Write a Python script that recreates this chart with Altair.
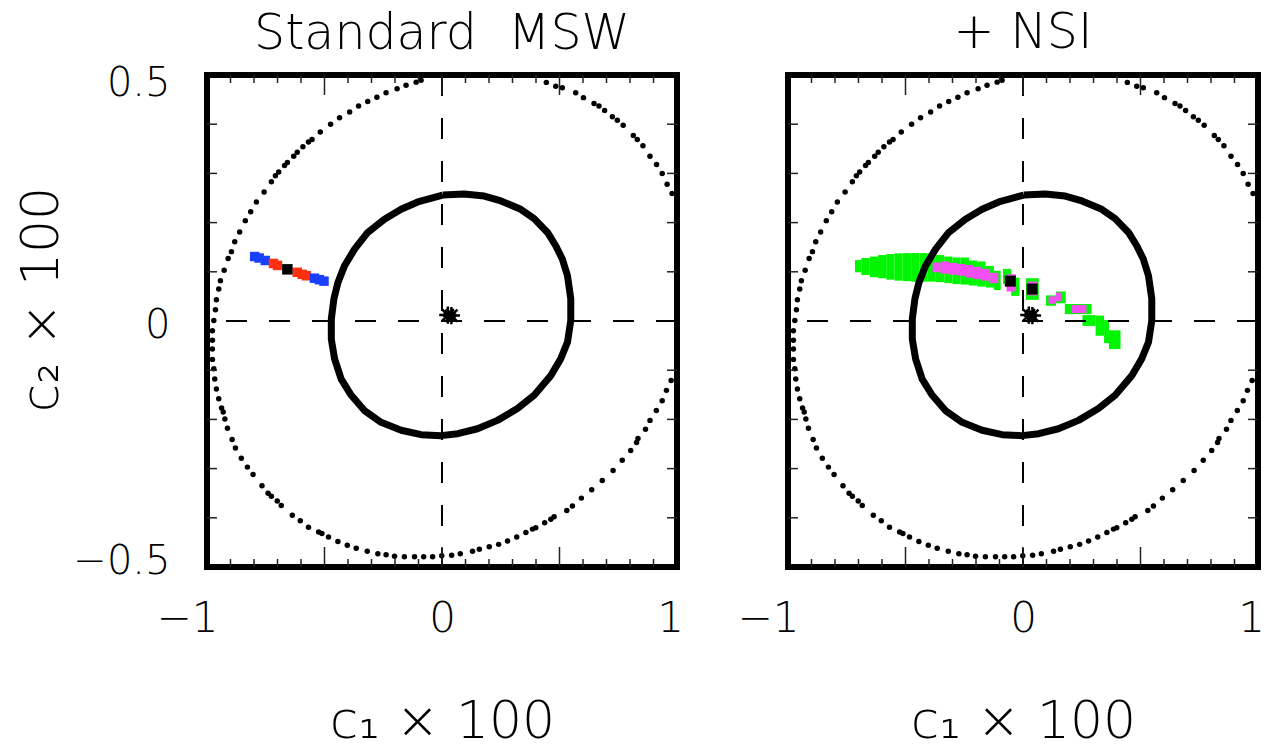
import altair as alt
import pandas as pd

# ---------------------------------------------------------------- data
# outer dotted contour (c1, c2)
outer_dots = [
    (-0.089, 0.4895), (-0.110, 0.4855), (-0.153, 0.479), (-0.191, 0.472), (-0.238, 0.464),
    (-0.277, 0.455), (-0.316, 0.446), (-0.355, 0.437), (-0.393, 0.425), (-0.436, 0.413),
    (-0.474, 0.400), (-0.518, 0.384), (-0.553, 0.369), (-0.568, 0.364), (-0.592, 0.354),
    (-0.616, 0.343), (-0.631, 0.335), (-0.658, 0.322), (-0.670, 0.316), (-0.695, 0.303),
    (-0.709, 0.295), (-0.726, 0.283), (-0.757, 0.262), (-0.790, 0.242), (-0.814, 0.222),
    (-0.837, 0.204), (-0.861, 0.181), (-0.882, 0.161), (-0.896, 0.141), (-0.910, 0.127),
    (-0.927, 0.103), (-0.943, 0.082), (-0.950, 0.065), (-0.960, 0.043), (-0.964, 0.023),
    (-0.971, 0.001), (-0.977, -0.020), (-0.977, -0.039), (-0.977, -0.057), (-0.977, -0.078),
    (-0.971, -0.097), (-0.967, -0.118), (-0.960, -0.138), (-0.950, -0.158), (-0.938, -0.177),
    (-0.931, -0.185), (-0.924, -0.199), (-0.913, -0.218), (-0.893, -0.241), (-0.879, -0.258),
    (-0.854, -0.279), (-0.828, -0.297), (-0.804, -0.312), (-0.766, -0.335), (-0.740, -0.350),
    (-0.726, -0.356), (-0.701, -0.366), (-0.684, -0.375), (-0.637, -0.395), (-0.603, -0.406),
    (-0.568, -0.419), (-0.525, -0.429), (-0.511, -0.432), (-0.483, -0.439), (-0.443, -0.448),
    (-0.403, -0.456), (-0.365, -0.462), (-0.318, -0.468), (-0.273, -0.473), (-0.238, -0.475),
    (-0.202, -0.478), (-0.160, -0.479), (-0.117, -0.479), (-0.078, -0.479), (-0.040, -0.479),
    (-0.001, -0.477), (0.041, -0.476), (0.078, -0.473), (0.130, -0.468), (0.159, -0.464),
    (0.201, -0.459), (0.241, -0.454), (0.279, -0.447), (0.318, -0.439), (0.357, -0.430),
    (0.385, -0.423), (0.399, -0.420), (0.437, -0.410), (0.463, -0.403), (0.477, -0.398),
    (0.531, -0.385), (0.555, -0.376), (0.593, -0.360), (0.637, -0.343), (0.682, -0.324),
    (0.728, -0.304), (0.767, -0.283), (0.803, -0.263), (0.828, -0.247), (0.834, -0.239),
    (0.866, -0.220), (0.885, -0.202), (0.912, -0.182), (0.937, -0.162), (0.955, -0.141),
    (0.975, -0.121),
    (0.444, 0.485), (0.484, 0.477), (0.512, 0.474), (0.569, 0.464), (0.602, 0.454),
    (0.647, 0.442), (0.668, 0.437), (0.692, 0.428), (0.725, 0.415), (0.746, 0.408),
    (0.771, 0.398), (0.814, 0.377), (0.831, 0.369), (0.855, 0.356), (0.885, 0.335),
    (0.913, 0.318), (0.937, 0.300), (0.958, 0.278), (0.979, 0.259),
]

# inner solid contour, traced clockwise from the top
inner_ring = [
    (0.003, 0.256), (0.095, 0.258), (0.180, 0.254), (0.251, 0.244), (0.335, 0.227),
    (0.392, 0.208), (0.449, 0.180), (0.484, 0.153), (0.512, 0.126), (0.534, 0.092),
    (0.548, 0.045), (0.548, 0.001), (0.534, -0.043), (0.505, -0.077), (0.463, -0.111),
    (0.392, -0.151), (0.321, -0.178), (0.236, -0.202), (0.151, -0.219), (0.067, -0.229),
    (-0.004, -0.233), (-0.089, -0.231), (-0.174, -0.222), (-0.259, -0.206), (-0.330, -0.182),
    (-0.386, -0.151), (-0.429, -0.118), (-0.457, -0.077), (-0.471, -0.037), (-0.471, 0.004),
    (-0.460, 0.045), (-0.443, 0.078), (-0.415, 0.112), (-0.372, 0.146), (-0.316, 0.180),
    (-0.245, 0.207), (-0.174, 0.227), (-0.103, 0.242), (0.003, 0.256),
]

# standard MSW allowed band
msw_x = [-0.797, -0.778, -0.752, -0.717, -0.700, -0.616, -0.595, -0.577, -0.543, -0.522, -0.502]
msw_y = [0.131, 0.128, 0.123, 0.117, 0.113, 0.099, 0.095, 0.092, 0.087, 0.084, 0.081]
msw_level = ["outer", "outer", "outer", "inner", "inner", "inner", "inner", "inner",
             "outer", "outer", "outer"]
msw_best = [(-0.658, 0.105)]

# NSI allowed regions: (c1 from, c1 to, c2 from, c2 to)
nsi_outer = [
    (-0.715, -0.688, 0.099, 0.124), (-0.688, -0.652, 0.0935, 0.128),
    (-0.652, -0.617, 0.089, 0.131), (-0.617, -0.582, 0.087, 0.134),
    (-0.582, -0.547, 0.084, 0.136), (-0.547, -0.512, 0.082, 0.1375),
    (-0.512, -0.476, 0.081, 0.138), (-0.476, -0.441, 0.080, 0.138),
    (-0.441, -0.406, 0.080, 0.138), (-0.406, -0.371, 0.080, 0.1375),
    (-0.371, -0.335, 0.079, 0.134), (-0.335, -0.300, 0.077, 0.131),
    (-0.300, -0.265, 0.075, 0.129), (-0.265, -0.230, 0.074, 0.129),
    (-0.230, -0.195, 0.072, 0.123), (-0.195, -0.159, 0.070, 0.121),
    (-0.159, -0.124, 0.068, 0.112), (-0.124, -0.095, 0.063, 0.102),
    (-0.085, -0.050, 0.075, 0.106), (-0.050, -0.015, 0.051, 0.088),
    (0.013, 0.067, 0.043, 0.087),
    (0.098, 0.140, 0.031, 0.052), (0.140, 0.182, 0.036, 0.060),
    (0.178, 0.292, 0.014, 0.0345),
    (0.253, 0.309, -0.010, 0.012), (0.309, 0.345, -0.030, 0.011),
    (0.345, 0.366, -0.045, 0.002), (0.366, 0.415, -0.057, -0.019),
]
nsi_inner = [
    (-0.385, -0.350, 0.099, 0.119), (-0.350, -0.315, 0.096, 0.121),
    (-0.315, -0.280, 0.094, 0.118), (-0.280, -0.245, 0.092, 0.116),
    (-0.245, -0.210, 0.088, 0.114), (-0.210, -0.175, 0.085, 0.110),
    (-0.175, -0.140, 0.082, 0.106), (-0.140, -0.105, 0.077, 0.098),
    (-0.070, -0.030, 0.060, 0.095), (0.018, 0.062, 0.052, 0.080),
    (0.109, 0.140, 0.035, 0.050), (0.140, 0.166, 0.040, 0.058),
    (0.204, 0.270, 0.016, 0.0325),
]
nsi_best = [(-0.054, 0.081), (0.039, 0.065)]

# reference point near the origin
origin_pt = [(0.025, 0.012), (0.040, 0.011)]

# axis labels and inner tick marks
x_labels = [-1, 0, 1]
y_labels = [-0.5, 0, 0.5]
x_minor = [-0.9, -0.8, -0.7, -0.6, -0.4, -0.3, -0.2, -0.1, 0.1, 0.2, 0.3, 0.4, 0.6, 0.7, 0.8, 0.9]
x_major = [-0.5, 0.0, 0.5]
y_minor = [-0.4, -0.3, -0.2, -0.1, 0.1, 0.2, 0.3, 0.4]

# ---------------------------------------------------------------- style
FONT = "DejaVu Sans"
WEIGHT = 200
W, H = 470, 492
BLUE, RED, GREEN, PINK = "#1a40ff", "#ff3010", "#00f500", "#f54ef5"
ASTERISK = "M-1,0L1,0M0,-1L0,1M-0.7,-0.7L0.7,0.7M-0.7,0.7L0.7,-0.7"

xs = alt.Scale(domain=[-1, 1], nice=False, zero=False)
ys = alt.Scale(domain=[-0.5, 0.5], nice=False, zero=False)


def x_axis():
    return alt.Axis(
        values=x_labels, format="~g", ticks=False, domain=False, grid=False,
        labelFont=FONT, labelFontSize=42, labelFontWeight=WEIGHT, labelColor="black",
        labelPadding=31, labelFlush=False,
        labelOffset={"expr": "datum.value < 0 ? -20 : (datum.value > 0 ? -7 : 0)"},
        title="c₁ × 100", titleFont=FONT, titleFontSize=52, titleFontWeight=WEIGHT,
        titleColor="black", titleBaseline="alphabetic", titleY=170,
    )


def y_axis():
    return alt.Axis(
        values=y_labels, format="~g", ticks=False, domain=False, grid=False,
        labelFont=FONT, labelFontSize=40, labelFontWeight=WEIGHT, labelColor="black",
        labelPadding=37,
        labelOffset={"expr": "datum.value > 0 ? 8 : (datum.value < 0 ? -6 : 4)"},
        title="c₂ × 100", titleFont=FONT, titleFontSize=52, titleFontWeight=WEIGHT,
        titleColor="black", titleBaseline="middle", titleX=-166, titleY=224,
    )


def panel(title, regions, with_y, title_offset):
    xa = x_axis()
    ya = y_axis() if with_y else None

    def X(f):
        return alt.X(f, type="quantitative", scale=xs, axis=xa)

    def Y(f):
        return alt.Y(f, type="quantitative", scale=ys, axis=ya)

    dots = pd.DataFrame(outer_dots, columns=["c1", "c2"])
    ring = pd.DataFrame(inner_ring, columns=["c1", "c2"])
    ring["i"] = range(len(ring))
    orig = pd.DataFrame(origin_pt, columns=["c1", "c2"])

    outer = alt.Chart(dots).mark_circle(size=30, color="black", opacity=1, clip=True).encode(
        x=X("c1"), y=Y("c2"))
    contour = alt.Chart(ring).mark_line(color="black", strokeWidth=7, strokeJoin="round").encode(
        x=X("c1"), y=Y("c2"), order="i:Q")
    star_arms = alt.Chart(orig).mark_point(shape=ASTERISK, filled=False, size=300, strokeWidth=2.5,
                                           color="black", opacity=1).encode(x=X("c1"), y=Y("c2"))
    star_core = alt.Chart(orig).mark_circle(size=90, color="black", opacity=1).encode(
        x=X("c1"), y=Y("c2"))

    zero = pd.DataFrame({"v": [0.0]})
    vdash = alt.Chart(zero).mark_rule(color="black", strokeWidth=2, strokeDash=[21, 22]).encode(
        x=X("v"))
    hdash = alt.Chart(zero).mark_rule(color="black", strokeWidth=2, strokeDash=[21, 22]).encode(
        y=Y("v"))

    xmin = pd.DataFrame({"t": x_minor})
    xmaj = pd.DataFrame({"t": x_major})
    ymin = pd.DataFrame({"t": y_minor})
    tick = dict(color="#222", strokeWidth=1.5)
    ticks = [
        alt.Chart(xmin).mark_rule(**tick).encode(x=X("t"), y=alt.value(0), y2=alt.value(8)),
        alt.Chart(xmin).mark_rule(**tick).encode(x=X("t"), y=alt.value(H), y2=alt.value(H - 8)),
        alt.Chart(xmaj).mark_rule(**tick).encode(x=X("t"), y=alt.value(0), y2=alt.value(20)),
        alt.Chart(xmaj).mark_rule(**tick).encode(x=X("t"), y=alt.value(H), y2=alt.value(H - 20)),
        alt.Chart(ymin).mark_rule(**tick).encode(y=Y("t"), x=alt.value(0), x2=alt.value(10)),
        alt.Chart(ymin).mark_rule(**tick).encode(y=Y("t"), x=alt.value(W), x2=alt.value(W - 10)),
    ]

    layers = ([outer] + regions(X, Y) + [contour, star_arms, star_core, vdash, hdash] + ticks)
    return alt.layer(*layers).properties(
        width=W, height=H,
        title=alt.TitleParams(title, font=FONT, fontSize=49, fontWeight=WEIGHT, color="black",
                              anchor="middle", frame="group", baseline="alphabetic",
                              offset=title_offset),
    )


def msw_regions(X, Y):
    band = pd.DataFrame({"c1": msw_x, "c2": msw_y, "level": msw_level})
    best = pd.DataFrame(msw_best, columns=["c1", "c2"])
    return [
        alt.Chart(band).mark_square(size=90, opacity=1).encode(
            x=X("c1"), y=Y("c2"),
            color=alt.Color("level:N", scale=alt.Scale(domain=["outer", "inner"],
                                                       range=[BLUE, RED]), legend=None)),
        alt.Chart(best).mark_square(size=110, color="black", opacity=1).encode(
            x=X("c1"), y=Y("c2")),
    ]


def nsi_regions(X, Y):
    cols = ["a", "b", "lo", "hi"]
    outer = pd.DataFrame(nsi_outer, columns=cols)
    inner = pd.DataFrame(nsi_inner, columns=cols)
    best = pd.DataFrame(nsi_best, columns=["c1", "c2"])
    return [
        alt.Chart(outer).mark_rect(color=GREEN).encode(
            x=X("a"), x2="b", y=Y("lo"), y2="hi"),
        alt.Chart(inner).mark_rect(color=PINK).encode(
            x=X("a"), x2="b", y=Y("lo"), y2="hi"),
        alt.Chart(best).mark_square(size=121, color="black", opacity=1).encode(
            x=X("c1"), y=Y("c2")),
    ]


left = panel("Standard\u00a0 MSW", msw_regions, True, -35)
right = panel("+ NSI", nsi_regions, False, -23)

chart = alt.hconcat(left, right, spacing=47).properties(
    padding={"left": 11, "top": 6, "right": 0, "bottom": 0},
    background="white",
).configure_view(stroke="black", strokeWidth=6)

chart.save("out.html", embed_options={"renderer": "svg", "actions": False})
